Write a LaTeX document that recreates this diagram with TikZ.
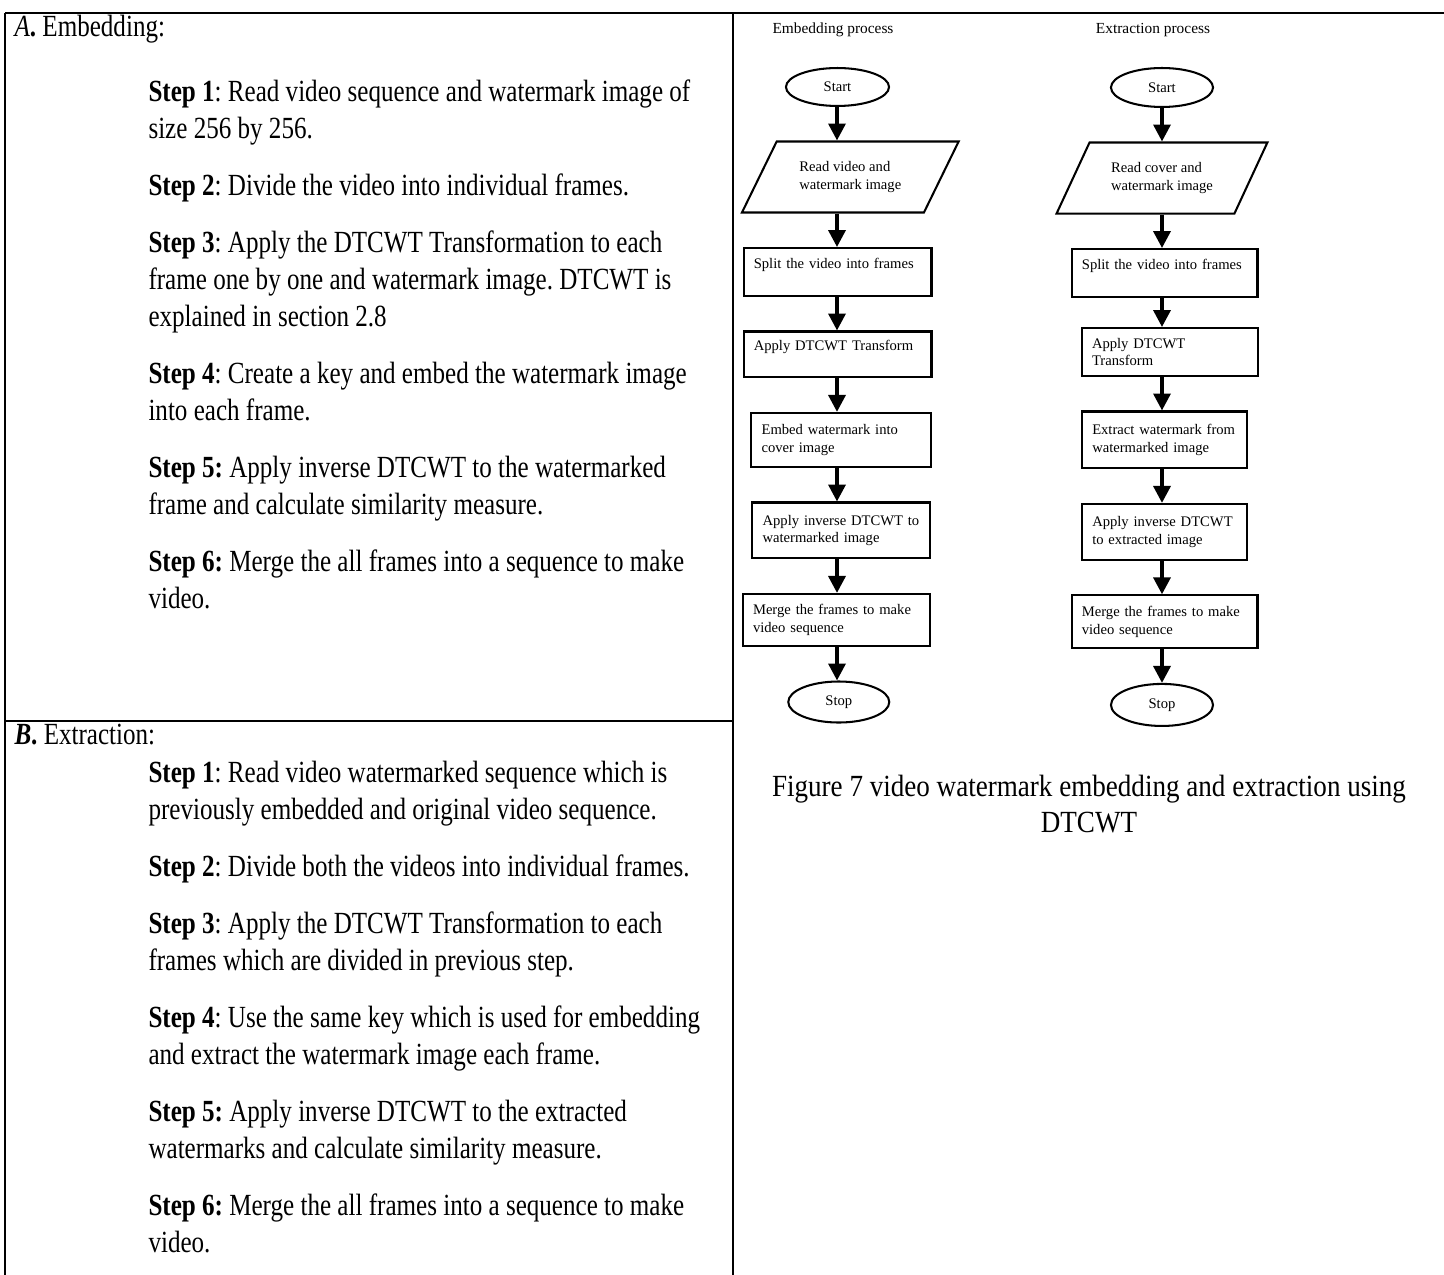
\documentclass[tikz,border=0pt]{standalone}
\usepackage{fontspec}
\setmainfont{Liberation Serif}
\newfontfamily\bodyfont[FakeStretch=0.815]{Liberation Serif}
\newfontfamily\capfont[FakeStretch=0.88]{Liberation Serif}
\usetikzlibrary{positioning, arrows.meta, shapes.geometric}
\frenchspacing

\begin{document}
\begin{tikzpicture}[
        x=0.39pt, y=-0.39pt,
        % Define common styles for the nodes and text
        node distance=13.05pt,
        rule/.style={line width=1.1pt},
        headtext/.style={anchor=base west, inner sep=0pt, font=\bodyfont\fontsize{12pt}{14.43pt}\selectfont},
        steptext/.style={anchor=north west, align=left, inner sep=0pt, font=\bodyfont\fontsize{12pt}{14.43pt}\selectfont},
        flowlabel/.style={inner sep=0pt, font=\fontsize{6pt}{6.8pt}\selectfont},
        terminal/.style={draw, ellipse, line width=0.8pt, inner sep=0pt, font=\fontsize{5.7pt}{6.8pt}\selectfont},
        inputbox/.style={draw, trapezium, trapezium stretches=true, line width=0.8pt, align=left, inner sep=0pt, font=\fontsize{5.7pt}{6.8pt}\selectfont},
        procbox/.style={draw, rectangle, line width=0.8pt, align=left, inner xsep=4pt, inner ysep=2pt, font=\fontsize{5.7pt}{6.8pt}\selectfont},
        arrow/.style={-{Triangle[length=6.6pt, width=6.6pt]}, line width=1.4pt}
    ]

    % Page and table rules
    \path[fill=white] (0,0) rectangle (1444,1275);
    \useasboundingbox (0,0) rectangle (1444,1275);
    \draw[rule] (5,13) -- (1444,13);
    \draw[rule] (5,13) -- (5,1275);
    \draw[rule] (733,13) -- (733,1275);
    \draw[rule] (5,721) -- (733,721);

    % Left column: the steps
    \node[headtext] (headA) at (14,37) {\textit{A}\textbf{.} Embedding:};

    \node[steptext] (stepsA) at (148,79) {\textbf{Step 1}: Read video sequence and watermark image of\\
        size 256 by 256.\\[7.8pt]
        \textbf{Step 2}: Divide the video into individual frames.\\[7.8pt]
        \textbf{Step 3}: Apply the DTCWT Transformation to each\\
        frame one by one and watermark image. DTCWT is\\
        explained in section 2.8\\[7.8pt]
        \textbf{Step 4}: Create a key and embed the watermark image\\
        into each frame.\\[7.8pt]
        \textbf{Step 5:} Apply inverse DTCWT to the watermarked\\
        frame and calculate similarity measure.\\[7.8pt]
        \textbf{Step 6:} Merge the all frames into a sequence to make\\
        video.};

    \node[headtext] (headB) at (14,745) {\textbf{\textit{B}.} Extraction:};

    \node[steptext] (stepsB) at (148,761) {\textbf{Step 1}: Read video watermarked sequence which is\\
        previously embedded and original video sequence.\\[7.8pt]
        \textbf{Step 2}: Divide both the videos into individual frames.\\[7.8pt]
        \textbf{Step 3}: Apply the DTCWT Transformation to each\\
        frames which are divided in previous step.\\[7.8pt]
        \textbf{Step 4}: Use the same key which is used for embedding\\
        and extract the watermark image each frame.\\[7.8pt]
        \textbf{Step 5:} Apply inverse DTCWT to the extracted\\
        watermarks and calculate similarity measure.\\[7.8pt]
        \textbf{Step 6:} Merge the all frames into a sequence to make\\
        video.};

    % Embedding flowchart
    \node[flowlabel] (lblA) at (833,30) {Embedding process};
    \coordinate (colA) at (837,0);

    \node[terminal, minimum width=40.2pt, minimum height=14.8pt] (startA) at (837.5,87) {Start};
    \node[inputbox, below=of startA, xshift=5pt, minimum width=84.6pt, minimum height=27.7pt,
        trapezium left angle=52, trapezium right angle=128] (readA) {Read video and\\ watermark image};
    \node[procbox, below=of readA, xshift=-5pt, text width=65.3pt, minimum height=18.7pt] (splitA) {Split the video into frames\\ \mbox{}};
    \node[procbox, below=of splitA, text width=65.3pt, minimum height=17.9pt] (dtcwtA) {Apply DTCWT Transform\\ \mbox{}};
    \node[procbox, below=of dtcwtA, xshift=1.5pt, text width=62.2pt, minimum height=21.1pt] (embedA) {Embed watermark into\\ cover image};
    \node[procbox, below=of embedA, text width=61.4pt, minimum height=21.8pt] (inverseA) {Apply inverse DTCWT to\\ watermarked image};
    \node[procbox, below=of inverseA, xshift=-2pt, text width=64.9pt, minimum height=20.3pt] (mergeA) {Merge the frames to make\\ video sequence};
    \node[terminal, below=of mergeA, xshift=1pt, minimum width=39.4pt, minimum height=16pt] (stopA) {Stop};

    % Extraction flowchart
    \node[flowlabel] (lblB) at (1153,30) {Extraction process};
    \coordinate (colB) at (1162,0);

    \node[terminal, minimum width=39.8pt, minimum height=15.2pt] (startB) at (1162,87.5) {Start};
    \node[inputbox, below=of startB, minimum width=82.3pt, minimum height=27.7pt,
        trapezium left angle=53, trapezium right angle=127] (readB) {Read cover and\\ watermark image};
    \node[procbox, below=of readB, xshift=1pt, text width=64.5pt, minimum height=18.7pt] (splitB) {Split the video into frames\\ \mbox{}};
    \node[procbox, below=11.3pt of splitB, xshift=2pt, text width=60.6pt, minimum height=18.7pt] (dtcwtB) {Apply DTCWT\\ Transform};
    \node[procbox, below=of dtcwtB, xshift=-2pt, text width=56.4pt, minimum height=22.2pt] (extractB) {Extract watermark from\\ watermarked image};
    \node[procbox, below=of extractB, text width=56.4pt, minimum height=21.8pt] (inverseB) {Apply inverse DTCWT\\ to extracted image};
    \node[procbox, below=of inverseB, text width=64.5pt, minimum height=20.7pt] (mergeB) {Merge the frames to make\\ video sequence};
    \node[terminal, below=of mergeB, xshift=-1pt, minimum width=39.8pt, minimum height=16.4pt] (stopB) {Stop};

    % Draw the arrows
    \foreach \a/\b in {startA/readA, readA/splitA, splitA/dtcwtA, dtcwtA/embedA, embedA/inverseA, inverseA/mergeA, mergeA/stopA}
        \draw[arrow] (\a.south -| colA) -- (\b.north -| colA);
    \foreach \a/\b in {startB/readB, readB/splitB, splitB/dtcwtB, dtcwtB/extractB, extractB/inverseB, inverseB/mergeB, mergeB/stopB}
        \draw[arrow] (\a.south -| colB) -- (\b.north -| colB);

    % Caption
    \node[anchor=north, align=center, inner sep=0pt, font=\capfont\fontsize{12pt}{14pt}\selectfont] (caption) at (1089,775)
        {Figure 7 video watermark embedding and extraction using\\ DTCWT};

\end{tikzpicture}
\end{document}
